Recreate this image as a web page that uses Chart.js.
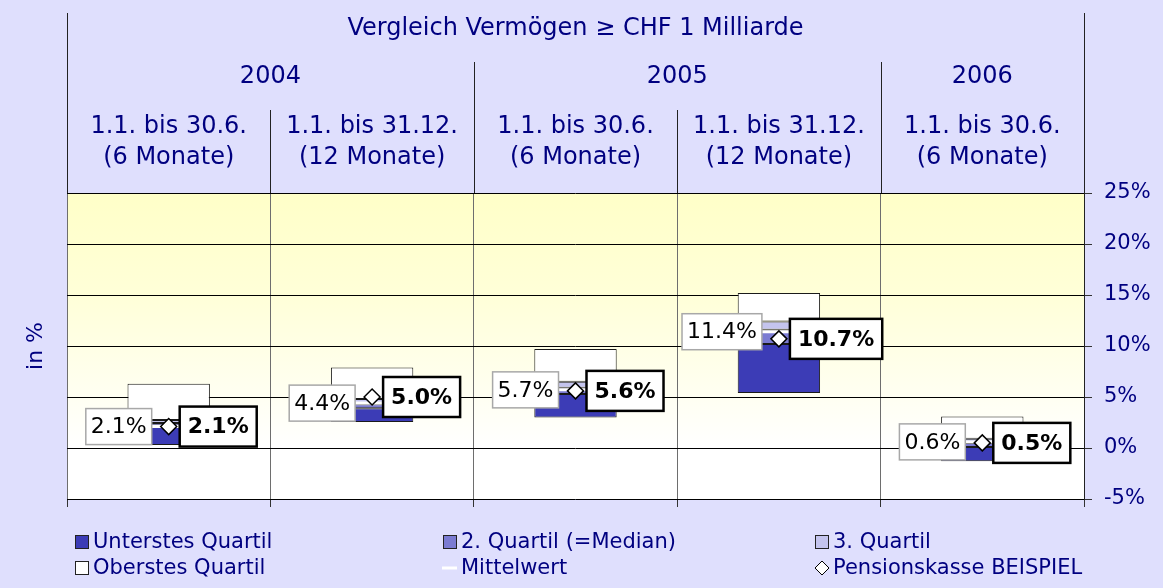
<!DOCTYPE html>
<html><head><meta charset="utf-8">
<script src="https://cdn.jsdelivr.net/npm/chart.js@4/dist/chart.umd.min.js"></script>
<style>
html,body{margin:0;padding:0;background:#dfdffd;}
#wrap{position:relative;width:1163px;height:588px;}
</style></head>
<body><div id="wrap"><canvas id="c" width="1163" height="588"></canvas></div>
<script>
const FONT = 'Verdana, "DejaVu Sans", sans-serif';
const NAVY = '#000080';

const title = 'Vergleich Vermögen ≥ CHF 1 Milliarde';
const years = ['2004', '2005', '2006'];
const yearSpans = [2, 2, 1];
const periodLine1 = ['1.1. bis 30.6.', '1.1. bis 31.12.', '1.1. bis 30.6.', '1.1. bis 31.12.', '1.1. bis 30.6.'];
const periodLine2 = ['(6 Monate)', '(12 Monate)', '(6 Monate)', '(12 Monate)', '(6 Monate)'];

const minVals    = [0.3, 2.55, 3.0, 5.4, -1.3];
const q1Vals     = [2.2, 3.9, 5.3, 10.2, 0.1];
const medianVals = [2.45, 4.3, 5.9, 11.6, 0.5];
const q3Vals     = [2.75, 4.8, 6.5, 12.4, 0.9];
const maxVals    = [6.3, 7.9, 9.7, 15.2, 3.1];
const meanVals   = [2.1, 4.4, 5.7, 11.4, 0.6];
const fundVals   = [2.1, 5.0, 5.6, 10.7, 0.5];

const yMin = -5, yMax = 25, yStep = 5;
const yAxisTitle = 'in %';

const seriesNames = ['Unterstes Quartil', '2. Quartil (=Median)', '3. Quartil', 'Oberstes Quartil', 'Mittelwert', 'Pensionskasse BEISPIEL'];
const seriesColors = ['#3c3cb6', '#7b7bd2', '#c4c4ee', '#ffffff', '#ffffff', '#ffffff'];

const pct = v => v.toFixed(1) + '%';

function barDs(idx, lo, hi, order) {
  return {
    type: 'bar', label: seriesNames[idx],
    data: lo.map((l, i) => [l, hi[i]]),
    backgroundColor: seriesColors[idx], borderColor: '#1a1a1a', borderWidth: 1,
    borderSkipped: false, grouped: false, order,
    barPercentage: 0.405, categoryPercentage: 1
  };
}

const bgPlugin = {
  id: 'bg',
  beforeDraw(chart) {
    const {ctx, chartArea: a, scales: {x, y}} = chart;
    ctx.save();
    ctx.fillStyle = '#dfdffd';
    ctx.fillRect(0, 0, chart.width, chart.height);
    const y0 = y.getPixelForValue(0);
    const g = ctx.createLinearGradient(0, a.top, 0, y0);
    g.addColorStop(0, '#ffffc8');
    g.addColorStop(0.4, '#ffffd8');
    g.addColorStop(1, '#ffffff');
    ctx.fillStyle = g;
    ctx.fillRect(a.left, a.top, a.right - a.left, y0 - a.top);
    ctx.fillStyle = '#ffffff';
    ctx.fillRect(a.left, y0, a.right - a.left, a.bottom - y0);

    // header lines
    const n = periodLine1.length;
    const bw = (a.right - a.left) / n;
    const bx = i => a.left + bw * i;
    ctx.strokeStyle = '#222';
    ctx.lineWidth = 1;
    const vline = (xx, yy0) => { ctx.beginPath(); ctx.moveTo(Math.round(xx) + 0.5, yy0); ctx.lineTo(Math.round(xx) + 0.5, a.top); ctx.stroke(); };
    vline(bx(0), 13); vline(bx(n), 13);
    let c = 0;
    yearSpans.forEach((s, k) => {
      if (k > 0) vline(bx(c), 62);
      for (let j = 1; j < s; j++) vline(bx(c + j), 110);
      c += s;
    });

    // header texts
    ctx.fillStyle = NAVY;
    ctx.textAlign = 'center';
    ctx.textBaseline = 'middle';
    ctx.font = '24px ' + FONT;
    ctx.fillText(title, (a.left + a.right) / 2, 29);
    c = 0;
    yearSpans.forEach((s, k) => {
      ctx.fillText(years[k], (bx(c) + bx(c + s)) / 2, 77);
      c += s;
    });
    for (let i = 0; i < n; i++) {
      const cx = (bx(i) + bx(i + 1)) / 2;
      ctx.fillText(periodLine1[i], cx, 127);
      ctx.fillText(periodLine2[i], cx, 158);
    }
    // y title
    ctx.font = '22px ' + FONT;
    ctx.save();
    ctx.translate(36, (a.top + a.bottom) / 2);
    ctx.rotate(-Math.PI / 2);
    ctx.fillText(yAxisTitle, 0, 0);
    ctx.restore();
    ctx.restore();
  },
  afterDatasetsDraw(chart) {
    const {ctx, scales: {x, y}} = chart;
    ctx.save();
    ctx.textBaseline = 'middle';
    ctx.textAlign = 'center';
    for (let i = 0; i < meanVals.length; i++) {
      const cx = x.getPixelForValue(i);
      // mean label
      let yy = y.getPixelForValue(meanVals[i]);
      ctx.font = '22px ' + FONT;
      let t = pct(meanVals[i]);
      let w = ctx.measureText(t).width + 10, h = 36;
      let x1 = cx - 17 - w;
      ctx.fillStyle = '#fff';
      ctx.fillRect(x1, yy - h / 2, w, h);
      ctx.strokeStyle = '#a8a8a8'; ctx.lineWidth = 1.5;
      ctx.strokeRect(x1, yy - h / 2, w, h);
      ctx.fillStyle = '#000';
      ctx.fillText(t, x1 + w / 2, yy + 1);
      // fund label
      yy = y.getPixelForValue(fundVals[i]);
      ctx.font = 'bold 22px ' + FONT;
      t = pct(fundVals[i]);
      w = ctx.measureText(t).width + 16; h = 40;
      x1 = cx + 11;
      ctx.fillStyle = '#fff';
      ctx.fillRect(x1, yy - h / 2, w, h);
      ctx.strokeStyle = '#000'; ctx.lineWidth = 2.5;
      ctx.strokeRect(x1, yy - h / 2, w, h);
      ctx.fillStyle = '#000';
      ctx.fillText(t, x1 + w / 2, yy + 1);
    }
    ctx.restore();
  },
  afterDraw(chart) {
    const {ctx} = chart;
    ctx.save();
    ctx.font = '21px ' + FONT;
    ctx.textBaseline = 'middle';
    ctx.textAlign = 'left';
    const colX = [75, 443, 815];
    const rowY = [542, 568];
    [0, 1, 2, 3, 4, 5].forEach((s, k) => {
      const cx = colX[k % 3], cy = rowY[Math.floor(k / 3)];
      if (s <= 3) {
        ctx.fillStyle = seriesColors[s];
        ctx.fillRect(cx + 0.5, cy - 6.5, 13, 13);
        ctx.strokeStyle = '#222'; ctx.lineWidth = 1;
        ctx.strokeRect(cx + 0.5, cy - 6.5, 13, 13);
      } else if (s === 4) {
        ctx.strokeStyle = '#fff'; ctx.lineWidth = 3;
        ctx.beginPath(); ctx.moveTo(cx - 1, cy); ctx.lineTo(cx + 14, cy); ctx.stroke();
      } else {
        ctx.fillStyle = '#fff'; ctx.strokeStyle = '#000'; ctx.lineWidth = 1;
        ctx.beginPath();
        ctx.moveTo(cx + 7, cy - 7); ctx.lineTo(cx + 14, cy); ctx.lineTo(cx + 7, cy + 7); ctx.lineTo(cx, cy); ctx.closePath();
        ctx.fill(); ctx.stroke();
      }
      ctx.fillStyle = NAVY;
      ctx.fillText(seriesNames[s], cx + 18, cy + 1);
    });
    ctx.restore();
  }
};

new Chart(document.getElementById('c'), {
  data: {
    labels: periodLine1.map((p, i) => p + ' ' + periodLine2[i]),
    datasets: [
      barDs(0, minVals, q1Vals, 5),
      barDs(1, q1Vals, medianVals, 4),
      barDs(2, medianVals, q3Vals, 3),
      barDs(3, q3Vals, maxVals, 2),
      { type: 'line', label: seriesNames[4], data: meanVals, showLine: false, order: 1,
        pointStyle: 'line', pointRadius: 41, pointHoverRadius: 41,
        pointBorderColor: '#fff', pointBorderWidth: 3, borderColor: '#fff' },
      { type: 'line', label: seriesNames[5], data: fundVals, showLine: false, order: 0,
        pointStyle: 'rectRot', pointRadius: 8, pointHoverRadius: 8,
        pointBackgroundColor: '#fff', pointBorderColor: '#000', pointBorderWidth: 1.5 }
    ]
  },
  options: {
    responsive: false, animation: false, events: [],
    layout: { padding: { left: 67, top: 193, right: 0, bottom: 0 } },
    plugins: { legend: { display: false }, tooltip: { enabled: false } },
    scales: {
      x: {
        type: 'category', offset: true,
        grid: { offset: true, color: '#6e6e6e', lineWidth: 1, drawTicks: true, tickLength: 8, tickColor: '#333' },
        border: { display: false },
        ticks: { display: false },
        afterFit: s => { s.height = 89; }
      },
      y: {
        position: 'right', min: yMin, max: yMax,
        ticks: { stepSize: yStep, callback: v => v + '%', color: NAVY, font: { size: 21, family: FONT }, padding: 12 },
        grid: { color: '#000', lineWidth: 1, tickLength: 8, tickColor: '#333' },
        border: { color: '#222', width: 1 },
        afterFit: s => { s.width = 79; }
      }
    }
  },
  plugins: [bgPlugin]
});
</script>
</body></html>
